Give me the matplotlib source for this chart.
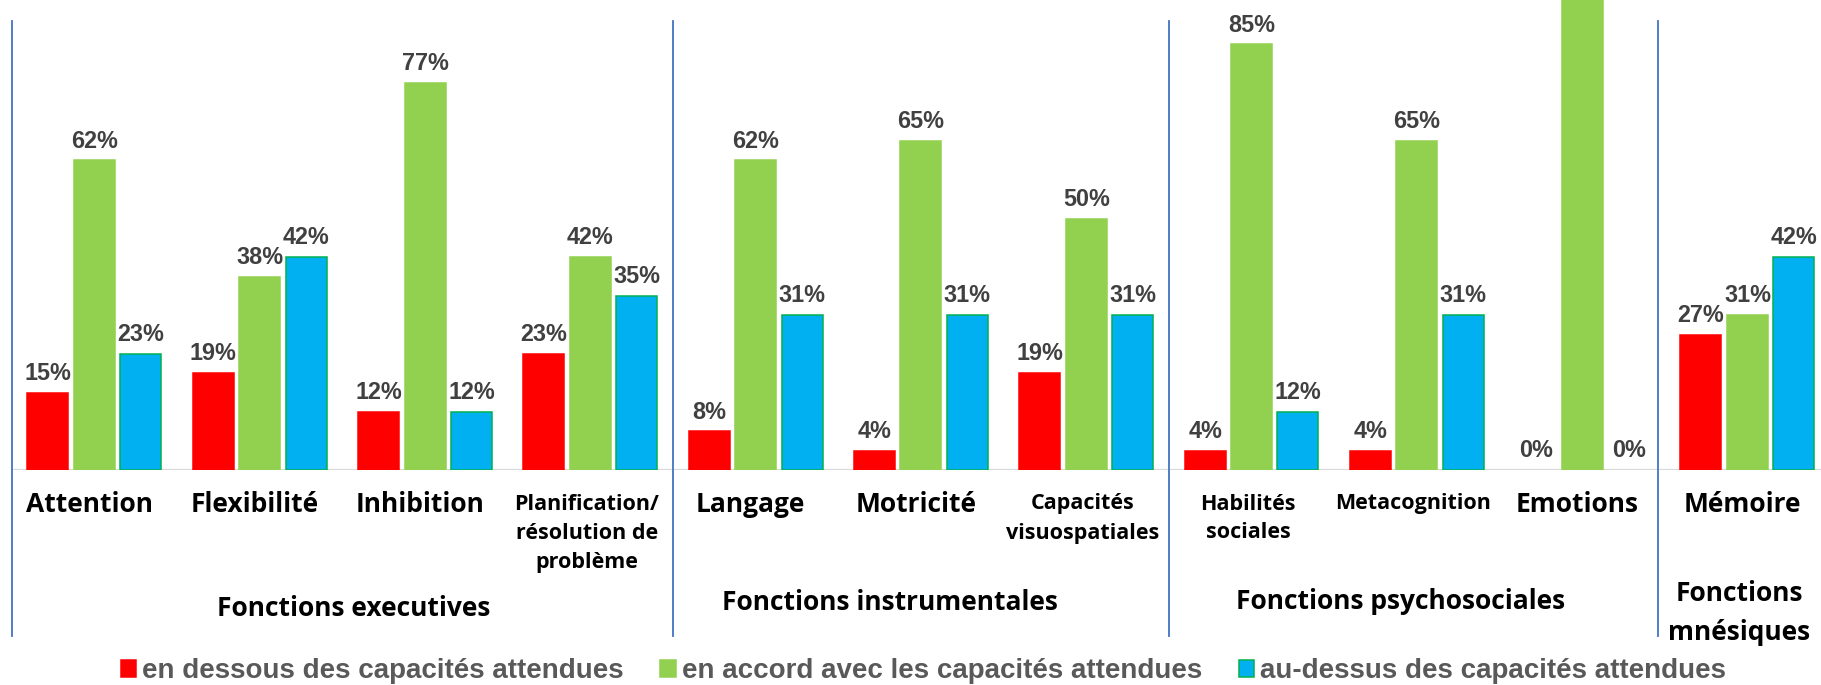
import matplotlib
matplotlib.use("Agg")
import matplotlib.pyplot as plt
import matplotlib.transforms as mtransforms
from matplotlib.lines import Line2D
import numpy as np

# ---------------- data ----------------
categories = ["Attention", "Flexibilité", "Inhibition",
              "Planification/\nrésolution de\nproblème",
              "Langage", "Motricité", "Capacités\nvisuospatiales",
              "Habilités\nsociales", "Metacognition", "Emotions", "Mémoire"]
small_label = [False, False, False, True, False, False, True, True, True, False, False]

series_names = ["en dessous des capacités attendues",
                "en accord avec les capacités attendues",
                "au-dessus des capacités attendues"]
below = [15.38, 19.23, 11.54, 23.08, 7.69, 3.85, 19.23, 3.85, 3.85, 0.0, 26.92]
match = [61.54, 38.46, 76.92, 42.31, 61.54, 65.38, 50.0, 84.62, 65.38, 100.0, 30.77]
above = [23.08, 42.31, 11.54, 34.62, 30.77, 30.77, 30.77, 11.54, 30.77, 0.0, 42.31]

groups = ["Fonctions executives", "Fonctions instrumentales",
          "Fonctions psychosociales", "Fonctions\nmnésiques"]
group_x = [1.57, 4.81, 7.90, 9.95]          # label centres (category units)
group_baseline_px = [616, 610, 609, 640]     # baseline of last line
separators = [-0.5, 3.5, 6.5, 9.46]

colors = ["#FF0000", "#92D050", "#00B0F0"]
edges = ["#FF0000", "#92D050", "#00B050"]

# ---------------- figure ----------------
W, H = 1821, 685
fig = plt.figure(figsize=(W / 100, H / 100), dpi=100)
fig.patch.set_facecolor("white")

left_px, base_px = 11.75, 470
ax = fig.add_axes([left_px / W, (H - base_px) / H, (W - left_px) / W, base_px / H])
ax.set_xlim(-0.5, 10.445)
ax.set_ylim(0, 93.44)
ax.axis("off")

x = np.arange(len(categories))
bw, off = 0.248, 0.281
conts = []
for i, vals in enumerate([below, match, above]):
    c = ax.bar(x + (i - 1) * off, vals, width=bw, color=colors[i],
               edgecolor=edges[i], linewidth=1.1, label=series_names[i], zorder=3)
    for p, v in zip(c.patches, vals):
        if v == 0:
            p.set_linewidth(0)
    conts.append(c)
    texts = ax.bar_label(c, fmt="%.0f%%", padding=5.6, color="#404040",
                         fontsize=16.8, fontweight="bold", family="Liberation Sans")
    for t in texts:
        t.set_clip_on(True)

# baseline
ax.axhline(0, color="#D9D9D9", lw=1.6, zorder=2)

blend = mtransforms.blended_transform_factory(ax.transData, fig.transFigure)

def fy(py):
    return 1 - py / H

# separators
for sx in separators:
    fig.add_artist(Line2D([sx, sx], [fy(21), fy(636)], transform=blend,
                          color="#4472C4", lw=1.3, clip_on=False))

# category labels (va='baseline' -> baseline of last line)
for i, lab in enumerate(categories):
    nlines = lab.count("\n") + 1
    if small_label[i]:
        ax.text(x[i] - 0.02, fy(509 + 29.5 * (nlines - 1)), lab, transform=blend,
                ha="center", va="baseline",
                fontsize=15.5, fontweight="bold", family="Open Sans",
                linespacing=1.5, multialignment="center", color="black")
    else:
        ax.text(x[i] - 0.03, fy(512), lab, transform=blend, ha="center", va="baseline",
                fontsize=19, fontweight="bold", family="Open Sans", color="black")

# group labels
for gx, gb, g in zip(group_x, group_baseline_px, groups):
    ax.text(gx, fy(gb), g, transform=blend, ha="center", va="baseline",
            fontsize=19, fontweight="bold", family="Open Sans",
            linespacing=1.55, multialignment="center", color="black")

# legend
leg = fig.legend(handles=conts, labels=series_names, loc="center",
                 bbox_to_anchor=(923.5 / W, fy(671)), ncol=3, frameon=False,
                 prop={"family": "Liberation Sans", "weight": "bold", "size": 20},
                 labelcolor="#595959", handlelength=0.55, handleheight=0.55,
                 handletextpad=0.22, columnspacing=1.33, borderpad=0, borderaxespad=0)

fig.savefig("out.png", dpi=100, facecolor="white")
